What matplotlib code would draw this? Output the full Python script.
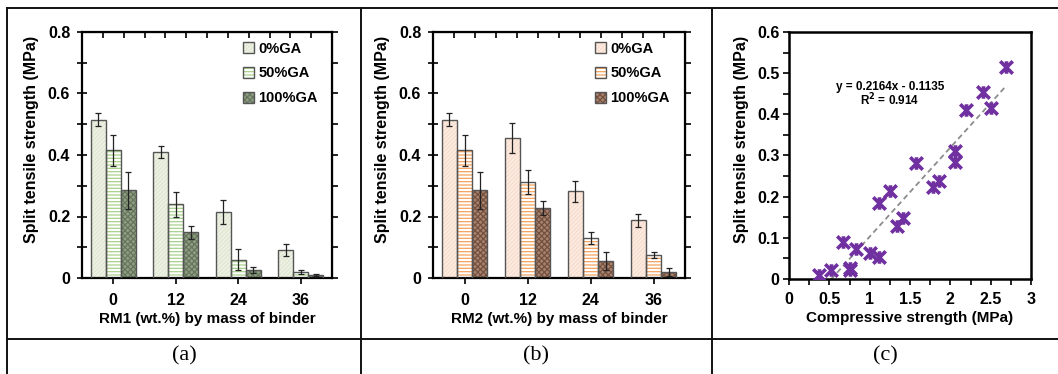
import numpy as np
import matplotlib
matplotlib.use('Agg')
import matplotlib.pyplot as plt
from matplotlib.lines import Line2D
from matplotlib.path import Path
from matplotlib import ticker

# ---- data ----
rm_levels = ['0', '12', '24', '36']
series_names = ['0%GA', '50%GA', '100%GA']

rm1_mean = {'0%GA': [0.515, 0.410, 0.215, 0.090],
            '50%GA': [0.415, 0.240, 0.060, 0.020],
            '100%GA': [0.285, 0.148, 0.027, 0.010]}
rm1_err = {'0%GA': [0.020, 0.020, 0.040, 0.020],
           '50%GA': [0.050, 0.040, 0.035, 0.006],
           '100%GA': [0.060, 0.020, 0.010, 0.004]}

rm2_mean = {'0%GA': [0.515, 0.455, 0.282, 0.187],
            '50%GA': [0.415, 0.312, 0.130, 0.076],
            '100%GA': [0.285, 0.227, 0.055, 0.021]}
rm2_err = {'0%GA': [0.020, 0.050, 0.035, 0.020],
           '50%GA': [0.050, 0.040, 0.020, 0.010],
           '100%GA': [0.060, 0.022, 0.030, 0.013]}

comp_strength = [0.37, 0.52, 0.67, 0.75, 0.76, 0.83, 1.00, 1.11, 1.12, 1.25, 1.34,
                 1.41, 1.58, 1.78, 1.86, 2.06, 2.06, 2.20, 2.40, 2.51, 2.69]
tens_strength = [0.010, 0.022, 0.091, 0.021, 0.026, 0.074, 0.062, 0.053, 0.185, 0.213, 0.129,
                 0.147, 0.282, 0.224, 0.239, 0.311, 0.285, 0.410, 0.454, 0.415, 0.515]
fit_slope, fit_intercept, fit_r2 = 0.2164, -0.1135, 0.914

# ---- styles: (fill, hatch colour, hatch) ----
green_style = {'0%GA': ('#eef2e5', '#dfe6d2', '////////'),
               '50%GA': ('#ffffff', '#a8d08a', '-----'),
               '100%GA': ('#8f9f84', '#66755c', 'xxxxxx')}
orange_style = {'0%GA': ('#fdece2', '#f7dccd', '////////'),
                '50%GA': ('#ffffff', '#f5a35e', '-----'),
                '100%GA': ('#a8836f', '#74503f', 'xxxxxx')}

plt.rcParams['font.family'] = ['Liberation Sans', 'DejaVu Sans']
plt.rcParams['font.weight'] = 'bold'
plt.rcParams['font.size'] = 11
plt.rcParams['hatch.linewidth'] = 0.9

W, H = 1058, 374
fig = plt.figure(figsize=(W / 100, H / 100), dpi=100)


def px_axes(l, t, r, b):
    return fig.add_axes([l / W, 1 - b / H, (r - l) / W, (b - t) / H])


fmt = ticker.FuncFormatter(lambda v, p: '0' if abs(v) < 1e-9 else '%g' % v)


def bar_panel(ax, means, errs, styles, xlabel):
    x = np.arange(len(rm_levels))
    width = 0.24
    handles = []
    for i, name in enumerate(series_names):
        fc, hc, hatch = styles[name]
        pos = x + (i - 1) * width
        b_fill = ax.bar(pos, means[name], width, color=fc, edgecolor=hc,
                        hatch=hatch, linewidth=0, zorder=2)
        b_edge = ax.bar(pos, means[name], width, facecolor='none',
                        edgecolor='#555555', linewidth=1.0, zorder=3)
        ax.errorbar(pos, means[name], yerr=errs[name], fmt='none',
                    ecolor='#222222', elinewidth=0.9, capsize=2, capthick=0.9, zorder=4)
        handles.append((b_fill[0], b_edge[0]))
    ax.set_xlim(-0.5, 3.5)
    ax.set_ylim(0, 0.8)
    ax.set_xticks(x)
    ax.set_xticklabels(rm_levels)
    ax.yaxis.set_major_locator(ticker.MultipleLocator(0.2))
    ax.yaxis.set_minor_locator(ticker.MultipleLocator(0.1))
    ax.yaxis.set_major_formatter(fmt)
    ax.tick_params(axis='y', which='both', direction='inout', length=7, width=1.2, pad=5,
                   labelsize=11.5)
    ax.tick_params(axis='x', direction='out', length=4, width=1.2, pad=7, labelsize=11.5)
    for s in ax.spines.values():
        s.set_linewidth(1.6)
    # mirrored ticks on top and right
    top = ax.secondary_xaxis('top')
    top.set_xticks(np.linspace(-0.5, 3.5, 13))
    top.tick_params(direction='in', length=4, width=1.2, labeltop=False)
    right = ax.secondary_yaxis('right')
    right.set_yticks(np.arange(0, 0.81, 0.1))
    right.tick_params(direction='out', length=4, width=1.2, labelright=False)
    ax.set_ylabel('Split tensile strength (MPa)', fontweight='bold', fontsize=11.5)
    ax.yaxis.set_label_coords(-0.172, 0.565)
    ax.set_xlabel(xlabel, fontweight='bold', fontsize=11, labelpad=3)
    ax.legend(handles, series_names, loc='upper left', bbox_to_anchor=(0.62, 0.985),
              frameon=False, handlelength=0.75, handleheight=0.75, handletextpad=0.3,
              labelspacing=0.75, borderaxespad=0, prop={'weight': 'bold', 'size': 10.5})


ax_a = px_axes(82, 32, 332, 278)
bar_panel(ax_a, rm1_mean, rm1_err, green_style, 'RM1 (wt.%) by mass of binder')

ax_b = px_axes(433, 32, 685, 278)
bar_panel(ax_b, rm2_mean, rm2_err, orange_style, 'RM2 (wt.%) by mass of binder')

# ---- scatter with linear trend ----
ax_c = px_axes(789, 32, 1031, 279)
star = Path([(-1, -1), (1, 1), (-1, 1), (1, -1), (0, -1), (0, 1)],
            [Path.MOVETO, Path.LINETO, Path.MOVETO, Path.LINETO, Path.MOVETO, Path.LINETO])
ax_c.plot(comp_strength, tens_strength, linestyle='none', marker=star, markersize=9,
          markeredgewidth=2.6, color='#7030a0', zorder=3)
xf = np.array([min(comp_strength), max(comp_strength)])
ax_c.plot(xf, fit_slope * xf + fit_intercept, linestyle=(0, (3, 2)), color='#8c8c8c',
          linewidth=1.3, zorder=2)
ax_c.text(1.25, 0.466, 'y = %.4fx - %.4f' % (fit_slope, -fit_intercept), ha='center',
          va='center', fontsize=8.5, fontweight='bold')
ax_c.text(1.25, 0.434, 'R$^{2}$ = %.3f' % fit_r2, ha='center', va='center',
          fontsize=8.5, fontweight='bold')
ax_c.set_xlim(0, 3)
ax_c.set_ylim(0, 0.6)
ax_c.xaxis.set_major_locator(ticker.MultipleLocator(0.5))
ax_c.xaxis.set_minor_locator(ticker.MultipleLocator(0.25))
ax_c.yaxis.set_major_locator(ticker.MultipleLocator(0.1))
ax_c.yaxis.set_minor_locator(ticker.MultipleLocator(0.05))
ax_c.xaxis.set_major_formatter(fmt)
ax_c.yaxis.set_major_formatter(fmt)
ax_c.tick_params(which='both', direction='out', length=4, width=1.2, labelsize=11.5)
ax_c.tick_params(axis='x', pad=5)
ax_c.tick_params(axis='y', pad=3)
for s in ax_c.spines.values():
    s.set_linewidth(1.8)
ax_c.set_ylabel('Split tensile strength (MPa)', fontweight='bold', fontsize=11.5)
ax_c.yaxis.set_label_coords(-0.165, 0.567)
ax_c.set_xlabel('Compressive strength (MPa)', fontweight='bold', fontsize=11, labelpad=3)

# ---- table frame and panel captions ----
frame_kw = dict(color='#111111', linewidth=1.4, transform=fig.transFigure)
for xv in (7, 361, 712):
    fig.add_artist(Line2D([xv / W, xv / W], [0, 1 - 8 / H], **frame_kw))
for yv in (8, 339):
    fig.add_artist(Line2D([7 / W, 1], [1 - yv / H, 1 - yv / H], **frame_kw))
for cx, lab in ((184, '(a)'), (536, '(b)'), (885, '(c)')):
    fig.text(cx / W, 1 - 356 / H, lab, ha='center', va='center', fontsize=16,
             fontweight='normal', family=['Liberation Serif', 'DejaVu Serif'])

fig.savefig('out.png', dpi=100)
